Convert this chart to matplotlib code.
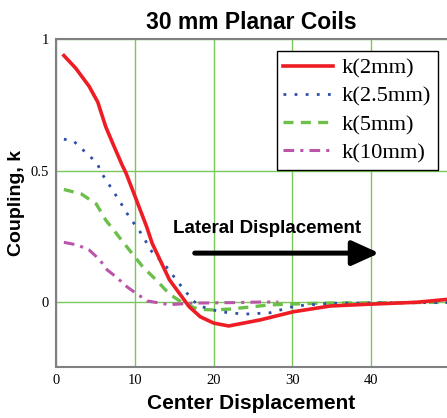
import matplotlib
matplotlib.use("Agg")
import matplotlib.pyplot as plt

# data
x_2mm = [1.0, 2.5, 4.2, 5.3, 6.3, 7.2, 8.4, 8.9, 10.2, 11.5, 12.2, 14.4, 16.9, 18.3, 20.0, 21.9, 25.9, 30.1, 34.8, 39.9, 45.7, 49.6]
k_2mm = [0.937, 0.889, 0.82, 0.76, 0.667, 0.603, 0.52, 0.489, 0.388, 0.286, 0.223, 0.084, -0.018, -0.056, -0.08, -0.091, -0.068, -0.037, -0.015, -0.008, -0.001, 0.01]

x_25mm = [1.0, 2.2, 3.2, 4.3, 5.3, 5.8, 6.5, 7.9, 9.2, 10.8, 12.1, 14.0, 15.6, 17.3, 18.2, 20.8, 23.9, 27.1, 30.4, 34.6, 40.0, 49.6]
k_25mm = [0.619, 0.613, 0.584, 0.555, 0.522, 0.489, 0.457, 0.392, 0.328, 0.261, 0.194, 0.134, 0.071, 0.008, -0.015, -0.037, -0.046, -0.041, -0.015, -0.005, -0.003, -0.002]

x_5mm = [1.0, 3.2, 5.1, 6.3, 7.8, 9.3, 11.0, 12.7, 14.4, 16.1, 18.0, 19.9, 22.0, 24.6, 27.1, 29.6, 33.8, 40.0, 49.6]
k_5mm = [0.428, 0.411, 0.373, 0.312, 0.255, 0.198, 0.134, 0.084, 0.03, -0.004, -0.027, -0.03, -0.027, -0.019, -0.011, -0.008, -0.004, -0.003, -0.001]

x_10mm = [1.0, 2.7, 4.2, 5.5, 6.5, 7.6, 9.0, 10.3, 11.6, 14.4, 17.4, 20.4, 22.9, 25.9, 28.2]
k_10mm = [0.227, 0.217, 0.198, 0.162, 0.122, 0.096, 0.058, 0.03, 0.004, -0.01, -0.004, -0.003, -0.002, 0.0, 0.0]

x_ticks = [0, 10, 20, 30, 40]
y_ticks = [0, 0.5, 1]
y_tick_labels = ["0", "0.5", "1"]

sans = "Liberation Sans"
serif = "Liberation Serif"

fig = plt.figure(figsize=(4.47, 4.18), dpi=100)
ax = fig.add_axes([0.1253, 0.122, 0.8747, 0.7847])

ax.plot(x_2mm, k_2mm, color="#ee1c24", lw=2.6, label="k(2mm)", zorder=5)
ax.plot(x_25mm, k_25mm, color="#2e4fa8", lw=2.0, ls=(0, (1, 3)), label="k(2.5mm)", zorder=4)
ax.plot(x_5mm, k_5mm, color="#6cc04a", lw=2.4, ls=(0, (3, 2.2)), label="k(5mm)", zorder=3)
ax.plot(x_10mm, k_10mm, color="#bb55aa", lw=2.2, ls=(0, (3.5, 2, 1, 2)), label="k(10mm)", zorder=2)

ax.set_xlim(0, 49.6)
ax.set_ylim(-0.247, 1.0)
ax.set_xticks(x_ticks)
ax.set_yticks(y_ticks)
ax.set_yticklabels(y_tick_labels)
ax.tick_params(length=0, labelsize=10.5, pad=5)
for lab in ax.get_xticklabels() + ax.get_yticklabels():
    lab.set_fontfamily(serif)
ax.grid(True, color="#7cc75a", lw=1.0)
ax.set_axisbelow(True)

for s in ["left", "bottom", "top"]:
    ax.spines[s].set_color("#808080")
    ax.spines[s].set_linewidth(1.5)
ax.spines["right"].set_visible(False)

ax.set_title("30 mm Planar Coils", fontsize=16.5, fontweight="bold", family=sans, pad=7)
ax.set_xlabel("Center Displacement", fontsize=15, fontweight="bold", family=sans, labelpad=5)
ax.set_ylabel("Coupling, k", fontsize=14, fontweight="bold", family=sans, labelpad=4)

leg = ax.legend(loc="upper right", bbox_to_anchor=(0.977, 0.963), borderaxespad=0,
                prop={"family": serif, "size": 16.2}, frameon=True, fancybox=False,
                handlelength=2.2, handletextpad=0.4, borderpad=0.3, labelspacing=0.33)
leg.get_frame().set_edgecolor("black")
leg.get_frame().set_linewidth(1.0)
leg.get_frame().set_alpha(1)

ax.text(26.8, 0.281, "Lateral Displacement", fontsize=13.5, fontweight="bold", family=sans,
        ha="center", va="center")
ax.annotate("", xy=(41.0, 0.186), xytext=(17.6, 0.186),
            arrowprops=dict(arrowstyle="-|>,head_length=1.65,head_width=0.75", color="black", lw=3.6,
                            shrinkA=0, shrinkB=0))

fig.savefig("out.png", dpi=100)
